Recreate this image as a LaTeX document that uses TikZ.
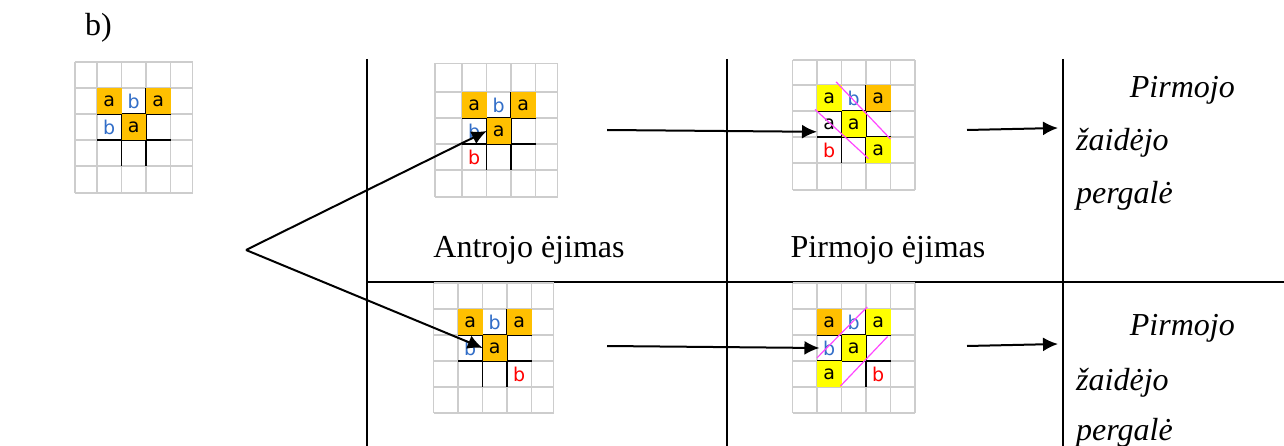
\documentclass[tikz,border=0pt]{standalone}
\usepackage{fontspec}
\setmainfont{Liberation Serif}
\newfontfamily\cellfont{DejaVu Sans}
\usetikzlibrary{arrows.meta}

\definecolor{cellorange}{RGB}{255,192,0}
\definecolor{cellyellow}{RGB}{255,255,0}
\definecolor{letterb}{RGB}{50,110,200}
\definecolor{winline}{RGB}{255,70,255}
\definecolor{gridgrey}{RGB}{205,205,205}

% grey paper grid round a 3x3 board, then the board lines
\newcommand{\papergrid}[4]{%
  \foreach \gx in {#1,0,1,2,3,#2} \draw[gridline] (\gx,#3) -- (\gx,#4);
  \foreach \gy in {#3,0,1,2,3,#4} \draw[gridline] (#1,\gy) -- (#2,\gy);
  \draw[boardline] (1,0) -- (1,3) (2,0) -- (2,3) (0,1) -- (3,1) (0,2) -- (3,2);
}

\begin{document}
\begin{tikzpicture}[x=1pt, y=-1pt,
  gridline/.style={gridgrey, line width=1.6pt},
  boardline/.style={black, line width=1.5pt},
  cell/.style={minimum width=24.5pt, minimum height=26pt, inner sep=0pt,
    font=\cellfont\fontsize{19}{19}\selectfont},
  oa/.style={cell, fill=cellorange},
  ya/.style={cell, fill=cellyellow},
  bb/.style={cell, text=letterb},
  rb/.style={cell, text=red},
  winmark/.style={winline, line width=1.2pt},
  rule/.style={line width=2pt},
  arrow/.style={-{Latex[length=15pt,width=14pt]}, line width=2pt},
  txt/.style={inner sep=0pt, font=\fontsize{32}{38}\selectfont},
  wintxt/.style={inner sep=0pt, font=\fontsize{32}{38}\selectfont\itshape}
]
\useasboundingbox (0,0) rectangle (1284,446);

\node[txt, anchor=base west] (part) at (85,36) {b)};

% starting position
\begin{scope}[shift={(97,88)}, x=24.5pt, y=-26pt]
  \papergrid{-0.9}{3.9}{-1}{4.05}
  \node[oa] (s00) at (0.5,0.5) {a};
  \node[bb] (s01) at (1.5,0.5) {b};
  \node[oa] (s02) at (2.5,0.5) {a};
  \node[bb] (s10) at (0.5,1.5) {b};
  \node[oa] (s11) at (1.5,1.5) {a};
\end{scope}

% table lines
\draw[rule] (367,59) -- (367,446);
\draw[rule] (727,59) -- (727,446);
\draw[rule] (1063,59) -- (1063,446);
\draw[rule] (367,281.5) -- (1284,281.5);

% upper row: second player's move
\begin{scope}[shift={(462,92)}, x=24.5pt, y=-26pt]
  \papergrid{-1.1}{3.9}{-1.1}{4.05}
  \node[oa] (u00) at (0.5,0.5) {a};
  \node[bb] (u01) at (1.5,0.5) {b};
  \node[oa] (u02) at (2.5,0.5) {a};
  \node[bb] (u10) at (0.5,1.5) {b};
  \node[oa] (u11) at (1.5,1.5) {a};
  \node[rb] (u20) at (0.5,2.5) {b};
\end{scope}

% upper row: first player's move
\begin{scope}[shift={(817,85)}, x=24.5pt, y=-26pt]
  \papergrid{-1}{4}{-0.95}{4.05}
  \node[ya] (v00) at (0.5,0.5) {a};
  \node[bb] (v01) at (1.5,0.5) {b};
  \node[oa] (v02) at (2.5,0.5) {a};
  \node[cell] (v10) at (0.5,1.5) {a};
  \node[ya] (v11) at (1.5,1.5) {a};
  \node[rb] (v20) at (0.5,2.5) {b};
  \node[ya] (v22) at (2.5,2.5) {a};
  \draw[winmark] (0.78,-0.12) -- (3,2.08);
  \draw[winmark] (-0.08,0.94) -- (2.1,2.83);
  \coordinate (vin) at (0,1.8);
\end{scope}

% lower row: second player's move
\begin{scope}[shift={(458,309)}, x=24.5pt, y=-26pt]
  \papergrid{-1}{3.9}{-1}{4}
  \node[oa] (l00) at (0.5,0.5) {a};
  \node[bb] (l01) at (1.5,0.5) {b};
  \node[oa] (l02) at (2.5,0.5) {a};
  \node[bb] (l10) at (0.5,1.5) {b};
  \node[oa] (l11) at (1.5,1.5) {a};
  \node[rb] (l22) at (2.5,2.5) {b};
\end{scope}

% lower row: first player's move
\begin{scope}[shift={(817,309)}, x=24.5pt, y=-26pt]
  \papergrid{-1}{4}{-1}{4}
  \node[oa] (w00) at (0.5,0.5) {a};
  \node[bb] (w01) at (1.5,0.5) {b};
  \node[ya] (w02) at (2.5,0.5) {a};
  \node[bb] (w10) at (0.5,1.5) {b};
  \node[ya] (w11) at (1.5,1.5) {a};
  \node[ya] (w20) at (0.5,2.5) {a};
  \node[rb] (w22) at (2.5,2.5) {b};
  \draw[winmark] (0,1.88) -- (2.05,-0.08);
  \draw[winmark] (0.95,2.97) -- (2.88,1.06);
  \coordinate (win) at (0.1,1.5);
\end{scope}

% captions
\node[txt, anchor=base] (second) at (529,258) {Antrojo ėjimas};
\node[txt, anchor=base] (first) at (888,258) {Pirmojo ėjimas};

\node[wintxt, anchor=base east] (up1) at (1235,98) {Pirmojo};
\node[wintxt, anchor=base west] (up2) at (1076,151) {žaidėjo};
\node[wintxt, anchor=base west] (up3) at (1076,204) {pergalė};
\node[wintxt, anchor=base east] (lo1) at (1235,335) {Pirmojo};
\node[wintxt, anchor=base west] (lo2) at (1076,390) {žaidėjo};
\node[wintxt, anchor=base west] (lo3) at (1076,440) {pergalė};

% arrows
\coordinate (fork) at (246,250);
\draw[arrow] (fork) -- (u10.east);
\draw[arrow] (fork) -- (l10.east);

\coordinate (umid) at (607,130);
\coordinate (lmid) at (607,346);
\draw[arrow] (umid) -- (vin);
\draw[arrow] (lmid) -- (win);

\coordinate (uend) at (967,130);
\coordinate (lend) at (967,346);
\coordinate (uwin) at (1058,128);
\coordinate (lwin) at (1058,344);
\draw[arrow] (uend) -- (uwin);
\draw[arrow] (lend) -- (lwin);
\end{tikzpicture}
\end{document}
